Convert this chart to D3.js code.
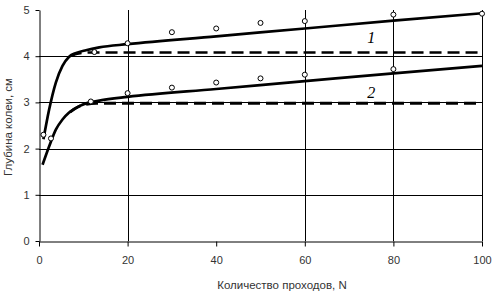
<!DOCTYPE html>
<html>
<head>
<meta charset="utf-8">
<script src="https://cdn.jsdelivr.net/npm/d3@7"></script>
<style>
  body { margin: 0; background: #fff; }
  svg { display: block; font-family: "Liberation Sans", Arial, sans-serif; }
</style>
</head>
<body>
<script>
// Curve 1 (solid) and its dashed asymptote
const solid1 = [[1.0, 2.2], [2.3, 2.85], [3.8, 3.43], [5.3, 3.79], [6.8, 3.99], [8.4, 4.07],
                [10.6, 4.13], [13.6, 4.19], [20, 4.26], [40, 4.43], [60, 4.6], [80, 4.77], [100, 4.93]];
const dashed1 = [[7, 4.0], [9, 4.06], [12, 4.08], [99, 4.08]];

// Curve 2 (solid) and its dashed asymptote
const solid2 = [[0.8, 1.65], [2.3, 2.05], [3.8, 2.41], [5.3, 2.63], [6.8, 2.78], [9.1, 2.92],
                [11.4, 3.0], [13.6, 3.04], [20, 3.12], [40, 3.29], [60, 3.46], [80, 3.63], [100, 3.79]];
const dashed2 = [[7, 2.79], [9.5, 2.93], [13, 2.98], [99, 2.98]];

// Measured points
const pts1X = [1, 12.5, 20, 30, 40, 50, 60, 80, 100];
const pts1Y = [2.3, 4.09, 4.28, 4.52, 4.6, 4.72, 4.76, 4.9, 4.92];
const pts2X = [2.7, 11.7, 20, 30, 40, 50, 60, 80];
const pts2Y = [2.22, 3.02, 3.2, 3.32, 3.43, 3.52, 3.6, 3.72];

const xTicks = [0, 20, 40, 60, 80, 100];
const xGrid = [20, 60, 80, 100];
const yTicks = [0, 1, 2, 3, 4, 5];
const yGrid = [1, 2, 3, 4];

const width = 496;
const height = 298;

const x = d3.scaleLinear().domain([0, 100]).range([39, 482]);
const y = d3.scaleLinear().domain([0, 5]).range([241, 10]);

const svg = d3.select("body").append("svg")
    .attr("width", width)
    .attr("height", height)
    .attr("viewBox", [0, 0, width, height]);

// grid
svg.append("g")
    .selectAll("line")
    .data(yGrid)
    .join("line")
    .attr("x1", x(0)).attr("x2", x(100))
    .attr("y1", d => Math.round(y(d)) + 0.5).attr("y2", d => Math.round(y(d)) + 0.5)
    .attr("stroke", "#000");

svg.append("g")
    .selectAll("line")
    .data(xGrid)
    .join("line")
    .attr("x1", d => Math.round(x(d)) + 0.5).attr("x2", d => Math.round(x(d)) + 0.5)
    .attr("y1", y(5)).attr("y2", y(0))
    .attr("stroke", "#000");

// axes
svg.append("g")
    .attr("transform", `translate(0,${Math.round(y(0)) + 0.5})`)
    .call(d3.axisBottom(x).tickValues(xTicks).tickSize(5).tickSizeOuter(0).tickPadding(10)
        .tickFormat(d3.format("d")))
    .call(g => g.select(".domain").attr("stroke", "#000"))
    .call(g => g.selectAll("text").attr("font-size", 11).attr("fill", "#333")
        .attr("font-family", "Liberation Sans, Arial, sans-serif"));

svg.append("g")
    .attr("transform", `translate(${Math.round(x(0)) + 0.5},0)`)
    .call(d3.axisLeft(y).tickValues(yTicks).tickSize(4).tickSizeOuter(0).tickPadding(6)
        .tickFormat(d3.format("d")))
    .call(g => g.select(".domain").attr("stroke", "#000"))
    .call(g => g.selectAll("text").attr("font-size", 11).attr("fill", "#333")
        .attr("font-family", "Liberation Sans, Arial, sans-serif"));

// axis titles
svg.append("text")
    .attr("x", 282)
    .attr("y", 289)
    .attr("text-anchor", "middle")
    .attr("font-size", 11.5)
    .attr("fill", "#333")
    .text("Количество проходов, N");

svg.append("text")
    .attr("transform", "translate(12,127) rotate(-90)")
    .attr("text-anchor", "middle")
    .attr("font-size", 11.5)
    .attr("fill", "#333")
    .text("Глубина колеи, см");

// lines
const line = d3.line()
    .x(d => x(d[0]))
    .y(d => y(d[1]))
    .curve(d3.curveMonotoneX);

svg.append("path").attr("d", line(dashed1))
    .attr("fill", "none").attr("stroke", "#000").attr("stroke-width", 2.5)
    .attr("stroke-dasharray", "12,6");
svg.append("path").attr("d", line(dashed2))
    .attr("fill", "none").attr("stroke", "#000").attr("stroke-width", 3)
    .attr("stroke-dasharray", "12,6");

svg.append("path").attr("d", line(solid1))
    .attr("fill", "none").attr("stroke", "#000").attr("stroke-width", 2.7)
    .attr("stroke-linejoin", "round");
svg.append("path").attr("d", line(solid2))
    .attr("fill", "none").attr("stroke", "#000").attr("stroke-width", 2.7)
    .attr("stroke-linejoin", "round");

// markers
const markers = svg.append("g");
markers.selectAll(".p1")
    .data(pts1X.map((v, i) => [v, pts1Y[i]]))
    .join("circle")
    .attr("class", "p1")
    .attr("cx", d => x(d[0]))
    .attr("cy", d => y(d[1]))
    .attr("r", 2.5)
    .attr("fill", "#fff")
    .attr("stroke", "#000")
    .attr("stroke-width", 1);
markers.selectAll(".p2")
    .data(pts2X.map((v, i) => [v, pts2Y[i]]))
    .join("circle")
    .attr("class", "p2")
    .attr("cx", d => x(d[0]))
    .attr("cy", d => y(d[1]))
    .attr("r", 2.5)
    .attr("fill", "#fff")
    .attr("stroke", "#000")
    .attr("stroke-width", 1);

// curve labels
svg.append("text")
    .attr("x", x(75)).attr("y", y(4.28))
    .attr("text-anchor", "middle")
    .attr("font-family", "Liberation Serif, Times New Roman, serif")
    .attr("font-style", "italic")
    .attr("font-size", 16)
    .text("1");
svg.append("text")
    .attr("x", x(75)).attr("y", y(3.1))
    .attr("text-anchor", "middle")
    .attr("font-family", "Liberation Serif, Times New Roman, serif")
    .attr("font-style", "italic")
    .attr("font-size", 16)
    .text("2");
</script>
</body>
</html>
